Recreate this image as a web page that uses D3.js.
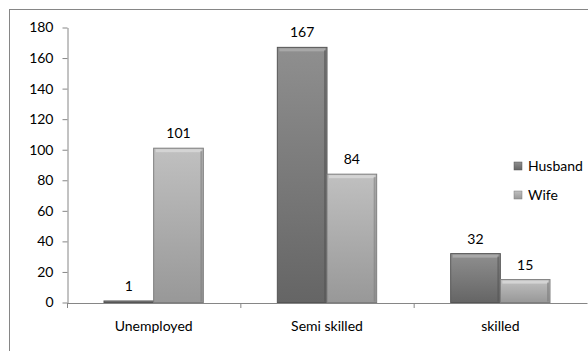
<!DOCTYPE html>
<html>
<head>
<meta charset="utf-8">
<script src="https://cdn.jsdelivr.net/npm/d3@7"></script>
<style>
  body { margin: 0; background: #fff; }
  svg { display: block; font-family: Lato, "Open Sans", sans-serif; }
</style>
</head>
<body>
<div id="chart"></div>
<script>
const categories = ["Unemployed", "Semi skilled", "skilled"];
const seriesNames = ["Husband", "Wife"];
const husband = [1, 167, 32];
const wife = [101, 84, 15];
const yTicks = [0, 20, 40, 60, 80, 100, 120, 140, 160, 180];

const width = 588, height = 351;
const margin = ({top: 27.5, right: 1, bottom: 48.5, left: 67});

const svg = d3.select("#chart")
  .append("svg")
    .attr("width", width)
    .attr("height", height);

// outer frame
svg.append("rect")
  .attr("x", 9.5).attr("y", 9.5)
  .attr("width", width + 20).attr("height", height + 20)
  .attr("fill", "none")
  .attr("stroke", "#868686");

const defs = svg.append("defs");
const grads = [
  {id: "gH", top: "#8f8f8f", bottom: "#656565"},
  {id: "gW", top: "#c0c0c0", bottom: "#989898"}
];
grads.forEach(g => {
  const lg = defs.append("linearGradient").attr("id", g.id)
    .attr("x1", 0).attr("y1", 0).attr("x2", 0).attr("y2", 1);
  lg.append("stop").attr("offset", "0%").attr("stop-color", g.top);
  lg.append("stop").attr("offset", "100%").attr("stop-color", g.bottom);
});
const edge = ["#555555", "#7e7e7e"];
const hilite = ["#a8a8a8", "#d4d4d4"];

const x0 = d3.scaleBand()
  .domain(categories)
  .range([margin.left, width - margin.right])
  .paddingInner(0)
  .paddingOuter(0);

const x1 = d3.scaleBand()
  .domain(seriesNames)
  .range([37, x0.bandwidth() - 37]);

const y = d3.scaleLinear()
  .domain([0, 180])
  .range([height - margin.bottom, margin.top]);

const data = categories.map((c, i) => ({cat: c, values: [husband[i], wife[i]]}));

// y axis
const yAxis = svg.append("g")
  .attr("transform", `translate(${margin.left + 0.5},0)`)
  .call(d3.axisLeft(y).tickValues(yTicks).tickSize(5).tickPadding(9).tickSizeOuter(0));
yAxis.selectAll("line, path").attr("stroke", "#868686");
yAxis.selectAll("text").attr("font-size", 14).attr("fill", "#000")
  .attr("font-family", "Lato, sans-serif");

// bars
const groups = svg.append("g")
  .selectAll("g")
  .data(data)
  .join("g")
    .attr("transform", d => `translate(${x0(d.cat)},0)`);

const bars = groups.selectAll("g")
  .data(d => d.values.map((v, j) => ({key: seriesNames[j], j, v})))
  .join("g");

bars.append("rect")
  .attr("x", d => x1(d.key))
  .attr("y", d => y(d.v))
  .attr("width", x1.bandwidth())
  .attr("height", d => y(0) - y(d.v))
  .attr("fill", d => `url(#${grads[d.j].id})`)
  .attr("stroke", d => edge[d.j])
  .attr("stroke-width", 1);

// top bevel highlight
bars.filter(d => y(0) - y(d.v) > 6).append("rect")
  .attr("x", d => x1(d.key) + 2)
  .attr("y", d => y(d.v) + 1)
  .attr("width", x1.bandwidth() - 4)
  .attr("height", 3)
  .attr("fill", d => hilite[d.j]);

// side bevels
bars.filter(d => y(0) - y(d.v) > 6).append("rect")
  .attr("x", d => x1(d.key) + x1.bandwidth() - 3)
  .attr("y", d => y(d.v) + 3)
  .attr("width", 2)
  .attr("height", d => y(0) - y(d.v) - 4)
  .attr("fill", d => edge[d.j])
  .attr("opacity", 0.6);

// value labels
bars.append("text")
  .attr("x", d => x1(d.key) + x1.bandwidth() / 2)
  .attr("y", d => y(d.v) - 10)
  .attr("text-anchor", "middle")
  .attr("font-size", 14)
  .attr("fill", "#000")
  .text(d => d.v);

// x axis
const xAxis = svg.append("g")
  .attr("transform", `translate(0,${y(0) + 0.5})`)
  .call(d3.axisBottom(x0).tickSize(0).tickPadding(18).tickSizeOuter(0));
xAxis.select(".domain").attr("stroke", "#868686");
xAxis.selectAll("text").attr("font-size", 14).attr("fill", "#000")
  .attr("font-family", "Lato, sans-serif");
// category separators
xAxis.append("g")
  .selectAll("line")
  .data(categories.slice(1))
  .join("line")
    .attr("x1", d => x0(d) + 0.5).attr("x2", d => x0(d) + 0.5)
    .attr("y1", 0).attr("y2", 5)
    .attr("stroke", "#868686");
xAxis.append("line")
  .attr("x1", margin.left + 0.5).attr("x2", margin.left + 0.5)
  .attr("y1", 0).attr("y2", 5)
  .attr("stroke", "#868686");

// legend
const legend = svg.append("g")
  .selectAll("g")
  .data(seriesNames)
  .join("g")
    .attr("transform", (d, i) => `translate(514,${162 + i * 29})`);
legend.append("rect")
  .attr("width", 8).attr("height", 8)
  .attr("fill", (d, i) => `url(#${grads[i].id})`)
  .attr("stroke", (d, i) => edge[i])
  .attr("stroke-width", 0.5);
legend.append("text")
  .attr("x", 14).attr("y", 4)
  .attr("dy", "0.35em")
  .attr("font-size", 14)
  .attr("fill", "#000")
  .text(d => d);
</script>
</body>
</html>
